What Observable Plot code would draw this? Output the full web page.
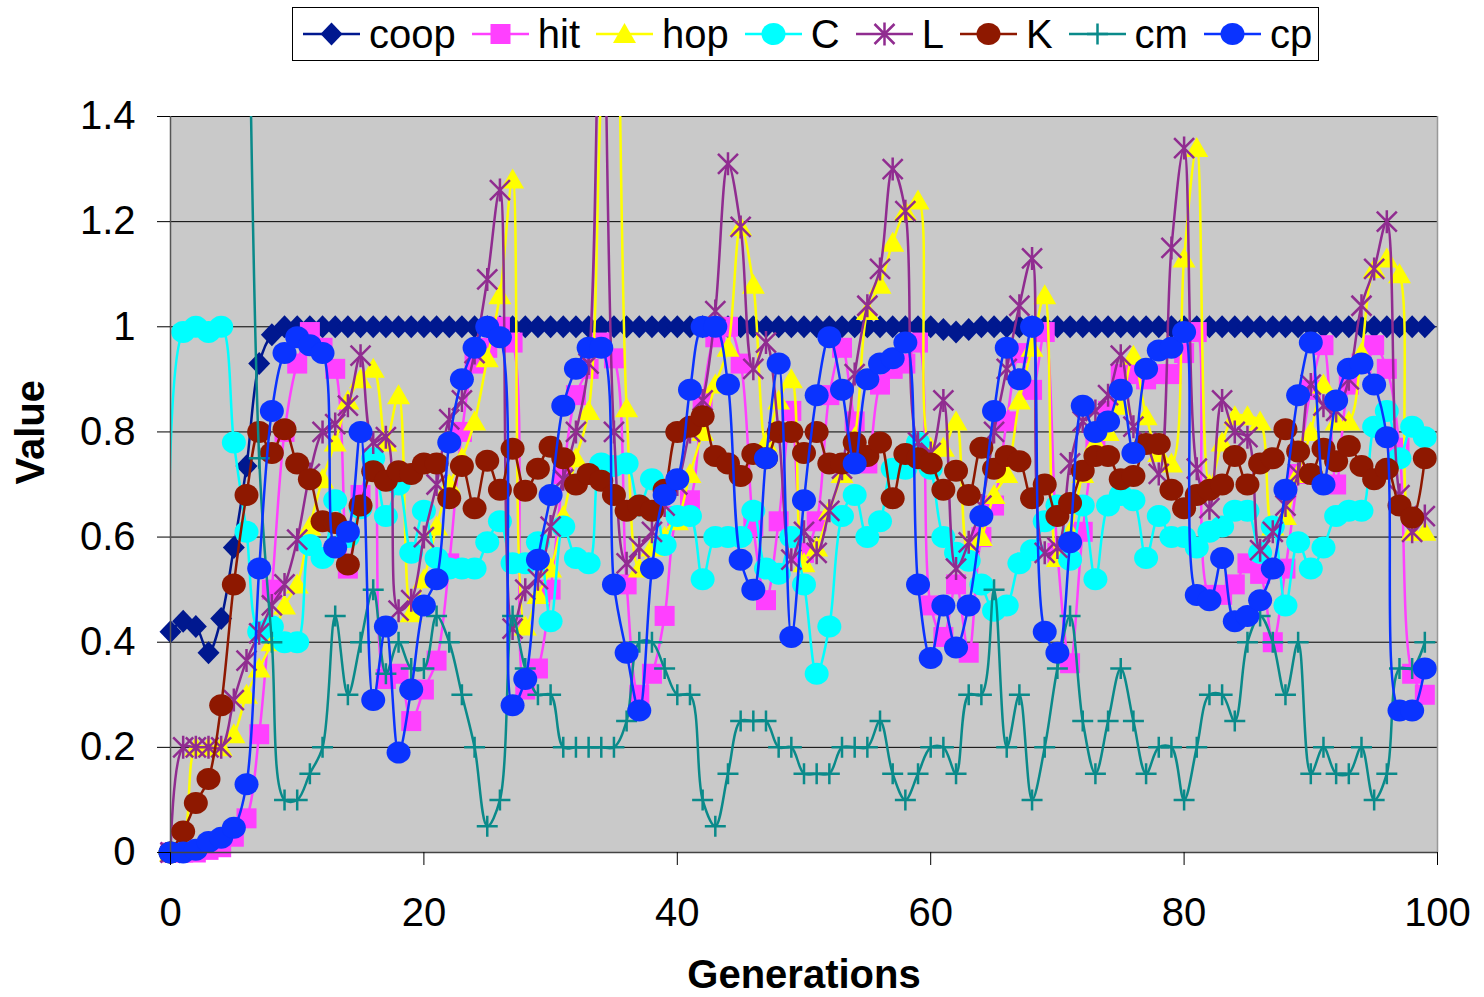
<!DOCTYPE html>
<html>
<head>
<meta charset="utf-8">
<script src="https://cdn.jsdelivr.net/npm/d3@7"></script>
<script src="https://cdn.jsdelivr.net/npm/@observablehq/plot@0.6"></script>
<style>
  html, body { margin: 0; padding: 0; background: #fff; }
  #wrap { position: relative; width: 1484px; height: 997px; font-family: "Liberation Sans", Arial, sans-serif; }
  #legend { position: absolute; left: 292px; top: 7px; height: 52px; box-sizing: content-box;
            border: 1.5px solid #000; background: #fff; display: flex; align-items: center;
            padding: 0 6px 0 10px; z-index: 2; }
  .item { display: flex; align-items: center; margin-right: 16px; }
  .item:last-child { margin-right: 0; }
  .item span { font-size: 40px; margin-left: 9px; color: #000; line-height: 46px; }
  #chart svg { display: block; }
</style>
</head>
<body>
<div id="wrap">
  <div id="legend"></div>
  <div id="chart"></div>
</div>
<script>
// ---------------- data ----------------
const seriesNames = ["coop", "hit", "hop", "C", "L", "K", "cm", "cp"];
const xTicks = [0, 20, 40, 60, 80, 100];
const yTicks = [0, 0.2, 0.4, 0.6, 0.8, 1, 1.2, 1.4];
const generations = d3.range(0, 100);

const coop = [0.42,0.44,0.43,0.38,0.445,0.58,0.735,0.93,0.985,1,
  1,1,1,1,1,1,1,1,1,1,
  1,1,1,1,1,1,1,1,1,1,
  1,1,1,1,1,1,1,1,1,1,
  1,1,1,1,1,1,1,1,1,1,
  1,1,1,1,1,1,1,1,1,1,
  1,0.995,0.99,0.995,1,1,1,1,1,1,
  1,1,1,1,1,1,1,1,1,1,
  1,1,1,1,1,1,1,1,1,1,
  1,1,1,1,1,1,1,1,1,1];

const hit = [0,0,0,0.005,0.01,0.03,0.065,0.225,0.5,0.8,
  0.93,0.99,0.96,0.92,0.54,0.68,0.75,0.33,0.34,0.25,
  0.31,0.365,0.55,0.8,0.93,0.96,1.0,0.97,0.31,0.35,
  0.5,0.72,0.87,0.92,0.97,0.94,0.51,0.3,0.34,0.45,
  0.64,0.67,0.86,0.98,1.0,0.93,0.62,0.48,0.63,0.84,
  0.57,0.63,0.87,0.96,0.82,0.74,0.89,0.92,0.93,0.97,
  0.47,0.41,0.51,0.38,0.6,0.66,0.82,0.95,0.88,0.99,
  0.57,0.36,0.61,0.78,0.84,0.91,0.91,0.9,0.91,0.91,
  0.95,0.99,0.49,0.49,0.51,0.55,0.53,0.4,0.54,0.72,
  0.88,0.965,0.7,0.89,0.93,0.965,0.92,0.77,0.34,0.3];

const hop = [0,0.02,0.2,0.2,0.2,0.225,0.3,0.35,0.4,0.47,
  0.51,0.62,0.71,0.78,0.86,0.9,0.92,0.78,0.87,0.455,
  0.52,0.62,0.7,0.75,0.82,0.94,1.06,1.28,0.43,0.49,
  0.54,0.64,0.75,0.84,1.45,1.8,0.845,0.54,0.58,0.6,
  0.63,0.72,0.8,0.89,0.96,1.19,1.08,0.78,0.86,0.9,
  0.55,0.58,0.65,0.72,0.79,1.03,1.08,1.16,1.22,1.24,
  0.77,0.77,0.82,0.57,0.6,0.68,0.72,0.86,0.96,1.06,
  0.56,0.61,0.72,0.78,0.8,0.85,0.945,0.83,0.76,0.74,
  1.13,1.34,0.7,0.78,0.83,0.83,0.82,0.62,0.64,0.72,
  0.8,0.89,0.82,0.82,0.95,1.11,1.13,1.1,0.61,0.61];

const C = [0,0.99,1.0,0.99,1.0,0.78,0.61,0.42,0.43,0.4,
  0.4,0.585,0.56,0.67,0.6,0.655,0.75,0.64,0.7,0.57,
  0.65,0.56,0.54,0.54,0.54,0.59,0.63,0.55,0.55,0.59,
  0.44,0.62,0.56,0.55,0.74,0.735,0.74,0.66,0.71,0.585,
  0.64,0.64,0.52,0.6,0.6,0.6,0.65,0.54,0.53,0.6,
  0.51,0.34,0.43,0.64,0.68,0.6,0.63,0.73,0.73,0.78,
  0.73,0.6,0.57,0.555,0.51,0.46,0.47,0.55,0.575,0.63,
  0.66,0.557,0.66,0.52,0.66,0.68,0.67,0.56,0.64,0.6,
  0.6,0.58,0.61,0.62,0.65,0.65,0.57,0.62,0.47,0.59,
  0.54,0.58,0.64,0.65,0.65,0.81,0.84,0.75,0.81,0.79];

const L = [0,0.2,0.2,0.2,0.2,0.29,0.365,0.417,0.47,0.51,
  0.595,0.72,0.8,0.815,0.85,0.945,0.78,0.79,0.46,0.48,
  0.6,0.7,0.824,0.86,0.95,1.09,1.26,0.426,0.5,0.52,
  0.62,0.71,0.8,0.93,1.8,0.8,0.55,0.58,0.61,0.66,
  0.7,0.8,0.86,1.03,1.31,1.19,0.92,0.97,0.8,0.557,
  0.61,0.57,0.65,0.73,0.91,1.04,1.11,1.3,1.22,0.78,
  0.76,0.86,0.54,0.59,0.66,0.8,0.92,1.04,1.13,0.57,
  0.58,0.74,0.82,0.84,0.87,0.945,0.81,0.78,0.72,1.15,
  1.34,0.73,0.655,0.86,0.8,0.79,0.575,0.61,0.66,0.72,
  0.89,0.85,0.84,0.9,1.04,1.11,1.2,0.68,0.61,0.64];

const K = [0,0.04,0.094,0.14,0.28,0.51,0.68,0.8,0.76,0.805,
  0.74,0.71,0.63,0.627,0.548,0.66,0.725,0.707,0.725,0.72,
  0.74,0.74,0.674,0.735,0.655,0.745,0.69,0.768,0.688,0.73,
  0.772,0.75,0.7,0.72,0.707,0.68,0.65,0.66,0.65,0.69,
  0.8,0.81,0.83,0.754,0.74,0.716,0.758,0.75,0.8,0.8,
  0.76,0.8,0.74,0.74,0.78,0.754,0.78,0.674,0.758,0.75,
  0.74,0.69,0.726,0.68,0.77,0.73,0.754,0.744,0.674,0.7,
  0.64,0.665,0.726,0.754,0.754,0.71,0.716,0.777,0.777,0.69,
  0.655,0.68,0.69,0.7,0.754,0.7,0.74,0.75,0.805,0.763,
  0.72,0.768,0.744,0.773,0.735,0.71,0.73,0.66,0.637,0.75];

// cm has no value for the first generations; its first value is far above the axis
const cm = [null,null,null,null,null,null,2.0,0.75,0.4,0.1,
  0.1,0.15,0.2,0.45,0.3,0.4,0.5,0.34,0.4,0.35,
  0.35,0.45,0.4,0.3,0.2,0.05,0.1,0.45,0.35,0.3,
  0.3,0.2,0.2,0.2,0.2,0.2,0.25,0.4,0.4,0.35,
  0.3,0.3,0.1,0.05,0.15,0.25,0.25,0.25,0.2,0.2,
  0.15,0.15,0.15,0.2,0.2,0.2,0.25,0.15,0.1,0.15,
  0.2,0.2,0.15,0.3,0.3,0.5,0.2,0.3,0.1,0.2,
  0.35,0.45,0.25,0.15,0.25,0.35,0.25,0.15,0.2,0.2,
  0.1,0.2,0.3,0.3,0.25,0.4,0.45,0.4,0.3,0.4,
  0.15,0.2,0.15,0.15,0.2,0.1,0.15,0.35,0.35,0.4];

const cp = [0,0,0.005,0.02,0.028,0.047,0.13,0.54,0.84,0.95,
  0.98,0.965,0.95,0.58,0.61,0.8,0.29,0.43,0.19,0.31,
  0.47,0.52,0.78,0.9,0.96,1.0,0.98,0.28,0.33,0.557,
  0.68,0.85,0.92,0.96,0.96,0.51,0.38,0.27,0.54,0.68,
  0.71,0.88,1.0,1.0,0.89,0.557,0.5,0.75,0.93,0.41,
  0.67,0.87,0.98,0.88,0.74,0.9,0.93,0.94,0.97,0.51,
  0.37,0.47,0.39,0.47,0.64,0.84,0.96,0.9,1.0,0.42,
  0.38,0.59,0.85,0.8,0.82,0.88,0.76,0.92,0.955,0.96,
  0.99,0.49,0.48,0.56,0.44,0.45,0.48,0.54,0.69,0.87,
  0.97,0.7,0.86,0.92,0.93,0.89,0.79,0.27,0.27,0.35];

const seriesValues = [coop, hit, hop, C, L, K, cm, cp];
const seriesColors = ["#00188F", "#FF40FF", "#FFFF00", "#00FFFF", "#902C90", "#8E1800", "#0A8A8A", "#0A33FF"];

// ---------------- marker shapes ----------------
function ellipse(c, rx, ry) {
  const k = 0.5523;
  c.moveTo(rx, 0);
  c.bezierCurveTo(rx, ry * k, rx * k, ry, 0, ry);
  c.bezierCurveTo(-rx * k, ry, -rx, ry * k, -rx, 0);
  c.bezierCurveTo(-rx, -ry * k, -rx * k, -ry, 0, -ry);
  c.bezierCurveTo(rx * k, -ry, rx, -ry * k, rx, 0);
  c.closePath();
}
const shapes = {
  diamond: { draw(c) { c.moveTo(0, -11.5); c.lineTo(11, 0); c.lineTo(0, 11.5); c.lineTo(-11, 0); c.closePath(); } },
  square: { draw(c) { c.moveTo(-10, -10); c.lineTo(10, -10); c.lineTo(10, 10); c.lineTo(-10, 10); c.closePath(); } },
  triangle: { draw(c) { c.moveTo(0, -11); c.lineTo(11.5, 9); c.lineTo(-11.5, 9); c.closePath(); } },
  circle: { draw(c) { ellipse(c, 12, 11); } },
  asterisk: { draw(c) { c.moveTo(0, -11.5); c.lineTo(0, 11.5); c.moveTo(-10, -10); c.lineTo(10, 10); c.moveTo(-10, 10); c.lineTo(10, -10); } },
  plus: { draw(c) { c.moveTo(-10.5, 0); c.lineTo(10.5, 0); c.moveTo(0, -10.5); c.lineTo(0, 10.5); } }
};
const seriesShapes = ["diamond", "square", "triangle", "circle", "asterisk", "circle", "plus", "circle"];
const strokeOnly = new Set(["asterisk", "plus"]);

// ---------------- marks ----------------
const marks = [
  Plot.frame({ fill: "#C9C9C9", stroke: null }),
  Plot.gridY(yTicks, { stroke: "#000", strokeOpacity: 1, strokeWidth: 1 })
];

seriesNames.forEach((name, si) => {
  const vals = seriesValues[si];
  const color = seriesColors[si];
  const shape = seriesShapes[si];
  const rows = generations.map((g, i) => ({ g, v: vals[i] })).filter(d => d.v != null);
  marks.push(Plot.line(rows, { x: "g", y: "v", stroke: color, strokeWidth: 2.5, curve: "catmull-rom", clip: true }));
  const visible = rows.filter(d => d.v <= 1.4);
  if (strokeOnly.has(shape)) {
    marks.push(Plot.dot(visible, { x: "g", y: "v", r: 5, symbol: shapes[shape], fill: "none", stroke: color, strokeWidth: 2.5 }));
  } else {
    marks.push(Plot.dot(visible, { x: "g", y: "v", r: 5, symbol: shapes[shape], fill: color, stroke: "none" }));
  }
});

marks.push(
  Plot.ruleX([0], { stroke: "#555", strokeWidth: 1.5 }),
  Plot.ruleX([100], { stroke: "#999", strokeWidth: 1.5 }),
  Plot.ruleY([0], { stroke: "#444", strokeWidth: 1.5 }),
  Plot.axisY(yTicks, { tickSize: 13, tickPadding: 22, tickFormat: d => String(d), label: null, stroke: "#000" }),
  Plot.axisX(xTicks, { tickSize: 13, tickPadding: 32, tickFormat: d => String(d), label: null, stroke: "#000" }),
  Plot.text(["Value"], { frameAnchor: "left", dx: -139, rotate: -90, text: d => d, fontWeight: "bold", fontSize: 40, fill: "#000" }),
  Plot.text(["Generations"], { frameAnchor: "bottom", dy: 123, text: d => d, fontWeight: "bold", fontSize: 40, fill: "#000", lineAnchor: "middle" })
);

const chart = Plot.plot({
  width: 1484,
  height: 997,
  marginLeft: 170,
  marginRight: 47,
  marginTop: 116,
  marginBottom: 145,
  x: { domain: [0, 100] },
  y: { domain: [0, 1.4] },
  style: { fontFamily: "'Liberation Sans', Arial, sans-serif", fontSize: "40px", background: "transparent", color: "#000", overflow: "visible" },
  marks
});
document.getElementById("chart").appendChild(chart);

// ---------------- legend ----------------
const legend = document.getElementById("legend");
seriesNames.forEach((name, si) => {
  const item = document.createElement("div");
  item.className = "item";
  const color = seriesColors[si];
  const shape = seriesShapes[si];
  const p = d3.path();
  shapes[shape].draw(p);
  const fillAttr = strokeOnly.has(shape) ? `fill="none" stroke="${color}" stroke-width="2.5"` : `fill="${color}"`;
  item.innerHTML = `<svg width="57" height="30" viewBox="0 0 57 30"><line x1="0" y1="15" x2="57" y2="15" stroke="${color}" stroke-width="2.5"/><path transform="translate(28.5,15)" d="${p.toString()}" ${fillAttr}/></svg><span>${name}</span>`;
  legend.appendChild(item);
});
</script>
</body>
</html>
